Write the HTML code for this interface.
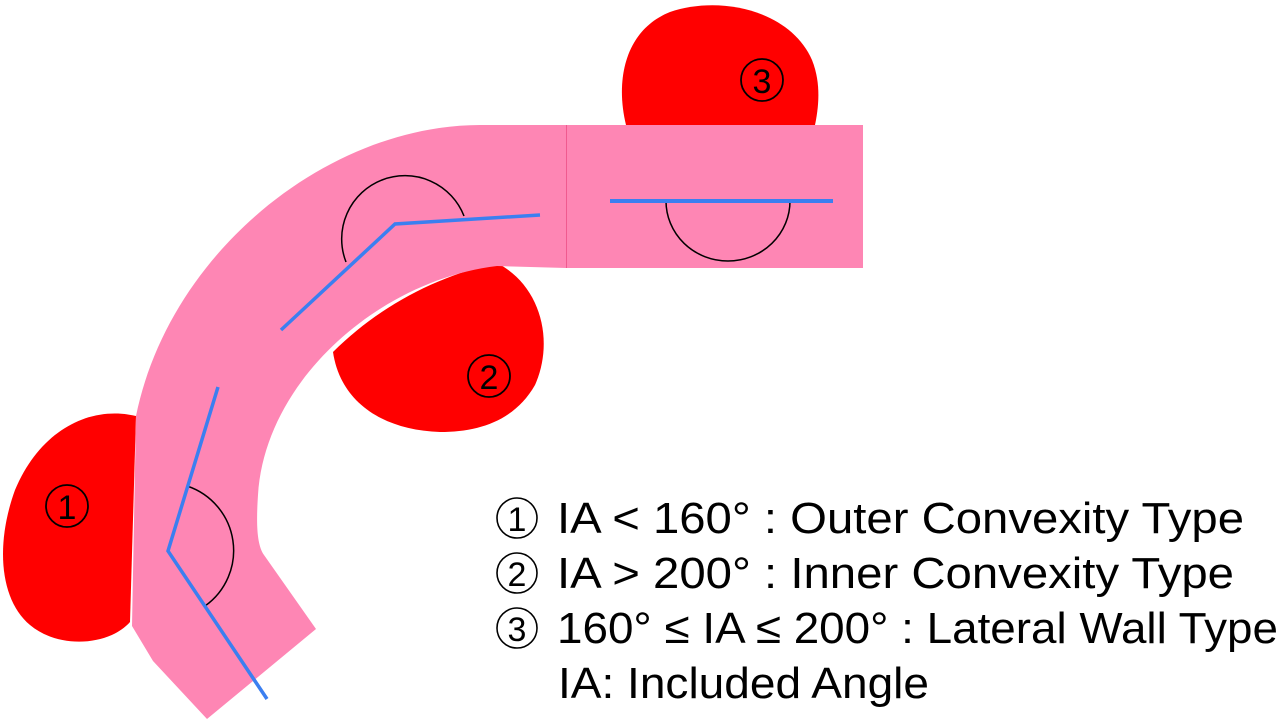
<!DOCTYPE html>
<html><head><meta charset="utf-8"><style>
html,body{margin:0;padding:0;background:#fff;width:1280px;height:728px;overflow:hidden}
svg{display:block}
text{font-family:"Liberation Sans","Noto Sans CJK JP",sans-serif;fill:#000}
</style></head><body>
<svg width="1280" height="728" viewBox="0 0 1280 728" xmlns="http://www.w3.org/2000/svg">
<!-- red blobs -->
<path d="M136,416 C90,405 40,430 15,490 C-5,545 0,600 30,625 C60,650 110,645 130,622 Z" fill="#ff0000"/>
<path d="M497,263 C540,285 555,340 535,385 C515,420 480,432 440,432 C380,430 340,400 333,352 C380,305 440,275 497,263 Z" fill="#ff0000"/>
<path d="M626,125 C615,80 625,30 670,12 C720,-5 790,10 812,60 C822,85 818,110 815,125 Z" fill="#ff0000"/>
<!-- pink vessel -->
<path d="M136,416 C170,250 330,125 480,125 L566,125 L566,268 L497,266 C380,280 265,380 258,495 C256,525 257,545 264,555 L316,629 L207,719 L153,661 L132,626 Z" fill="#fe86b4"/>
<rect x="566" y="125" width="297" height="143" fill="#fe86b4"/>
<line x1="566.5" y1="125" x2="566.5" y2="268" stroke="#f05a8f" stroke-width="1"/>
<!-- black arcs -->
<path d="M346,262 A62,62 0 1 1 464,216" fill="none" stroke="#000" stroke-width="1.5"/>
<path d="M187,486 A68,68 0 0 1 205,606" fill="none" stroke="#000" stroke-width="1.5"/>
<path d="M666,201 A62,60 0 0 0 790,201" fill="none" stroke="#000" stroke-width="1.5"/>
<!-- blue lines -->
<polyline points="281,330 395,224 540,215" fill="none" stroke="#3b7ff0" stroke-width="3.5"/>
<polyline points="218,387 168,551 267,699" fill="none" stroke="#3b7ff0" stroke-width="3.5"/>
<line x1="610" y1="201" x2="833" y2="201" stroke="#3b7ff0" stroke-width="4"/>
<!-- blob labels -->
<g fill="none" stroke="#000" stroke-width="1.8">
<circle cx="67" cy="506" r="21"/>
<circle cx="489" cy="376" r="21"/>
<circle cx="762" cy="80" r="21"/>
</g>
<text x="67" y="519" font-size="34" text-anchor="middle">1</text>
<text x="489" y="389" font-size="34" text-anchor="middle">2</text>
<text x="762" y="93" font-size="34" text-anchor="middle">3</text>
<!-- legend -->
<g fill="none" stroke="#000" stroke-width="1.6">
<circle cx="517" cy="518" r="20"/>
<circle cx="517" cy="573" r="20"/>
<circle cx="517" cy="628" r="20"/>
</g>
<text x="517" y="531" font-size="34" text-anchor="middle">1</text>
<text x="517" y="586" font-size="34" text-anchor="middle">2</text>
<text x="517" y="641" font-size="34" text-anchor="middle">3</text>
<text x="557" y="533" font-size="44" textLength="687" lengthAdjust="spacingAndGlyphs">IA &lt; 160°   : Outer Convexity Type</text>
<text x="557" y="588" font-size="44" textLength="677" lengthAdjust="spacingAndGlyphs">IA &gt; 200°   : Inner Convexity Type</text>
<text x="557" y="643" font-size="44" textLength="721" lengthAdjust="spacingAndGlyphs">160° ≤ IA ≤ 200° : Lateral Wall Type</text>
<text x="558" y="698" font-size="44" textLength="371" lengthAdjust="spacingAndGlyphs">IA: Included Angle</text>
</svg>
</body></html>
